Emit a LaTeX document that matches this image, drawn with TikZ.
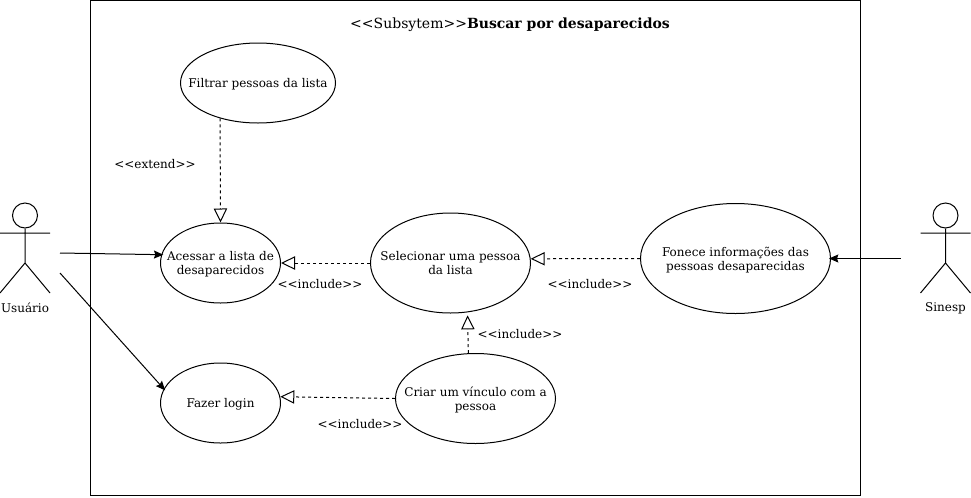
\documentclass[tikz,border=0pt]{standalone}
\usepackage{fontspec}
\setmainfont{DejaVu Serif}
\usetikzlibrary{arrows.meta,shapes.geometric}
\newcommand{\stereo}[1]{<{}<#1>{}>}
\newcommand{\casetext}[1]{\raisebox{-1.5pt}[\height][\depth]{\begin{tabular}{@{}c@{}}#1\end{tabular}}}
\tikzset{
  usecase/.style={draw,ellipse,inner xsep=-12pt,inner ysep=0pt,line width=0.75pt,font=\fontsize{9}{10.5}\selectfont},
  lbl/.style={inner sep=0.75pt,align=center,font=\fontsize{9}{10.5}\selectfont},
  dep/.style={dashed,dash pattern=on 2.25pt off 2.25pt,line width=0.75pt,-{Triangle[open,length=10.5pt,width=10pt,line width=0.75pt]}},
  assoc/.style={line width=0.75pt,shorten >=-1.5pt,-{Stealth[length=7pt,width=6pt,inset=1pt]}},
  actorhead/.style={draw,circle,minimum size=18.75pt,inner sep=0pt,line width=0.75pt}
}
\begin{document}
\begin{tikzpicture}[x=0.75pt,y=0.75pt,yscale=-1]
\useasboundingbox (0,0) rectangle (971,497);

%Shape: Rectangle
\draw [line width=0.75pt] (90.5,0.5) rectangle (860.5,495.5);

%Shape: Ellipse
\node [usecase,minimum width=116.25pt,minimum height=60pt] (filtrar) at (258,83) {\casetext{Filtrar pessoas da lista}};
\node [usecase,minimum width=90pt,minimum height=60pt] (acessar) at (220.5,263) {\casetext{Acessar a lista de\\desaparecidos}};
\node [usecase,minimum width=120pt,minimum height=75pt] (selecionar) at (450.5,263) {\casetext{Selecionar uma pessoa\\da lista}};
\node [usecase,minimum width=142.5pt,minimum height=82.5pt] (fonece) at (735.5,258.5) {\casetext{Fonece informações das\\pessoas desaparecidas}};
\node [usecase,minimum width=90pt,minimum height=60pt] (login) at (220.5,403) {\casetext{Fazer login}};
\node [usecase,minimum width=120pt,minimum height=67.5pt] (criar) at (475.5,398.5) {\casetext{Criar um vínculo com a\\pessoa}};

%Shape: Actor
\node [actorhead] (usuariohead) at (25,215.5) {};
\draw [line width=0.75pt] (usuariohead.south) -- (25,263) (0,233) -- (50,233) (0,293) -- (25,263) -- (50,293);
\node [actorhead] (sinesphead) at (945.5,215.5) {};
\draw [line width=0.75pt] (sinesphead.south) -- (945.5,263) (920.5,233) -- (970.5,233) (920.5,293) -- (945.5,263) -- (970.5,293);

%Free ends
\coordinate (usuarioa) at (60,253);
\coordinate (usuariob) at (60,273);
\coordinate (sinespa) at (900.5,258.5);

%Curve Lines
\draw [assoc] (usuarioa) -- (acessar.172);
\draw [assoc] (usuariob) -- (login.166);
\draw [assoc] (sinespa) -- (fonece.east);
\draw [dep] (filtrar.223) -- (acessar.north);
\draw [dep] (selecionar.west) -- (acessar.east);
\draw [dep] (fonece.west) -- (selecionar.3);
\draw [dep,shorten >=2.25pt] (criar.99.5) -- (selecionar.289);
\draw [dep] (criar.west) -- (login.6);

% Text Node
\node [inner sep=0.75pt,font=\fontsize{10.5}{13}\selectfont] (titulo) at (510,24.5) {\stereo{Subsytem}\textbf{Buscar por desaparecidos}};
\node [lbl] (usuario) at (25,308) {Usuário};
\node [lbl] (sinesp) at (945.5,308) {Sinesp};
\node [lbl] (extend) at (155,164.5) {\stereo{extend}};
\node [lbl] (includea) at (320,284.5) {\stereo{include}};
\node [lbl] (includeb) at (590,284.5) {\stereo{include}};
\node [lbl] (includec) at (520,334.5) {\stereo{include}};
\node [lbl] (included) at (360,424.5) {\stereo{include}};
\end{tikzpicture}
\end{document}
